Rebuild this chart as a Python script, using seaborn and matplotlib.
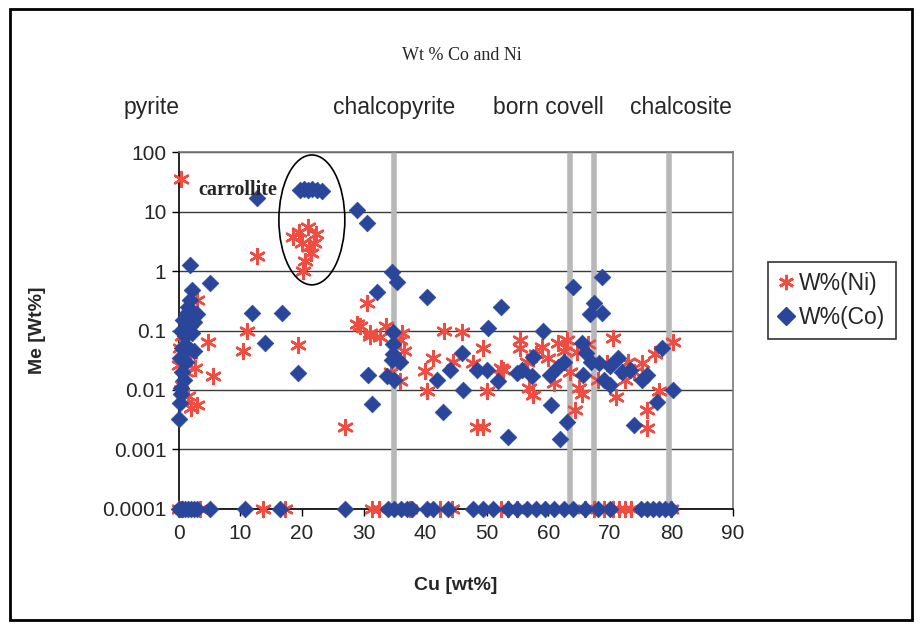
import numpy as np
import pandas as pd
import matplotlib
matplotlib.use('Agg')
import matplotlib.pyplot as plt
import seaborn as sns
from matplotlib.patches import Ellipse, Rectangle
from matplotlib.lines import Line2D
import matplotlib.transforms as mtransforms

# --- data (Cu wt%, Me wt%) ---
ni_cu = [0.3, 0.5, 1.0, 1.5, 0.2, 0.8, 0.0, 1.2, 0.5, 1.8, 2.9, 2.2, 4.7, 2.6, 5.5, 2.9, 2.0, 0.3, 1.5,
         10.4, 11.0, 12.7, 19.3,
         18.5, 19.5, 20.0, 21.0, 21.5, 20.5, 22.0, 20.2, 21.2, 22.3,
         30.5, 29.0, 31.0, 33.7, 36.2, 29.4, 31.0, 32.6, 35.9, 35.4, 35.9, 27.0, 34.5, 36.5,
         43.0, 46.0, 41.2, 40.0, 40.3, 49.4, 47.7, 50.0, 52.4, 48.4, 49.4, 44.5,
         55.4, 55.4, 59.0, 61.5, 63.1, 64.6, 70.5, 69.5, 75.3, 77.3, 80.2, 57.5, 56.8, 65.4, 64.3,
         76.0, 76.0, 61.0, 71.0, 78.0, 52.6, 65.0, 58.0, 60.0, 62.5, 66.5, 68.0, 72.5, 74.0, 56.5,
         63.5, 73.0]
ni_val = [35, 0.08, 0.07, 0.09, 0.05, 0.03, 0.026, 0.02, 0.012, 0.04, 0.32, 0.15, 0.064, 0.023, 0.017,
          0.0056, 0.005, 0.01, 0.008,
          0.045, 0.1, 1.8, 0.057,
          3.8, 4.5, 3.0, 5.5, 2.0, 1.5, 3.0, 1.0, 2.5, 4.2,
          0.29, 0.13, 0.09, 0.12, 0.09, 0.12, 0.08, 0.077, 0.07, 0.032, 0.014, 0.0024, 0.02, 0.045,
          0.1, 0.095, 0.035, 0.021, 0.0095, 0.05, 0.028, 0.0098, 0.023, 0.0024, 0.0024, 0.03,
          0.07, 0.05, 0.053, 0.061, 0.068, 0.044, 0.075, 0.028, 0.028, 0.041, 0.064, 0.0083, 0.011,
          0.0086, 0.0046, 0.0046, 0.0023, 0.013, 0.0075, 0.0095, 0.022, 0.011, 0.04, 0.035, 0.045,
          0.06, 0.015, 0.015, 0.02, 0.03, 0.02, 0.03]
ni_zero_cu = [0, 0.5, 3.4, 13.6, 17.2, 31.3, 32.5, 37.5, 42.4, 44.3, 52.4, 53.5, 54.9,
              66, 67.5, 69, 70.5, 71.5, 72.5, 73.5, 80]

co_cu = [1.8, 5.0, 2.1, 1.8, 1.3, 2.9, 1.8, 0.7, 1.5, 2.5, 0.3, 1.0, 0.5, 1.5, 2.5, 0.2, 1.2, 0.5,
         0.3, 0.4, 0.1, 0.8, 0.2, 2.2,
         11.8, 16.7, 14.0, 19.3, 12.7,
         19.6, 20.3, 21.0, 21.7, 22.4, 23.2,
         29.0, 30.5, 34.6, 35.4, 32.1, 40.3, 34.7, 31.3, 30.7, 33.8, 34.6, 34.7, 35.9, 35.0, 34.8,
         52.4, 50.2, 46.0, 44.0, 41.9, 46.1, 48.4, 50.0, 51.8, 42.9, 53.4, 55.0,
         64.0, 68.8, 67.5, 68.8, 66.7, 59.1, 57.5, 55.8, 57.3, 60.2, 61.5, 65.4, 66.2, 65.6, 68.3,
         70.0, 71.3, 70.0, 73.2, 75.3, 76.1, 78.4, 80.2, 77.6, 74.0, 60.5, 63.1, 61.9, 67.0, 72.0,
         69.0, 62.5]
co_val = [1.25, 0.62, 0.48, 0.33, 0.2, 0.19, 0.12, 0.15, 0.25, 0.14, 0.1, 0.08, 0.05, 0.05, 0.045,
          0.035, 0.03, 0.02, 0.011, 0.0086, 0.0032, 0.015, 0.006, 0.09,
          0.2, 0.2, 0.062, 0.019, 16.9,
          23, 24, 23, 24, 23, 22.5,
          10.6, 6.4, 0.97, 0.66, 0.44, 0.37, 0.095, 0.0059, 0.018, 0.017, 0.032, 0.04, 0.03, 0.015, 0.06,
          0.25, 0.11, 0.042, 0.022, 0.015, 0.01, 0.022, 0.022, 0.014, 0.0043, 0.0016, 0.019,
          0.54, 0.79, 0.29, 0.2, 0.19, 0.1, 0.036, 0.022, 0.017, 0.018, 0.024, 0.061, 0.042, 0.018,
          0.028, 0.025, 0.035, 0.012, 0.022, 0.015, 0.018, 0.051, 0.01, 0.0062, 0.0026, 0.0056,
          0.0029, 0.0015, 0.03, 0.02, 0.015, 0.03]
co_zero_cu = [0, 0.5, 1, 1.5, 2, 2.5, 3, 5, 10.7, 16.4, 27, 34, 35, 36, 37, 37.8, 40.3, 41.2, 43.7,
              47.7, 49.4, 51, 53.5, 55, 56.5, 58, 59.5, 61, 62.5, 64, 66, 68, 70, 75, 76, 77, 78, 79, 80]
detect_limit = 0.0001

mineral_names = ['pyrite', 'chalcopyrite', 'born covell', 'chalcosite']
mineral_label_cu = [-4.5, 35, 60, 81.5]
mineral_bounds = [35, 63.5, 67.5, 79.6]

red = '#EF4D42'
blue = '#2A469B'

ni = pd.DataFrame({'Cu': ni_cu + ni_zero_cu,
                   'Me': ni_val + [detect_limit] * len(ni_zero_cu)})
co = pd.DataFrame({'Cu': co_cu + co_zero_cu,
                   'Me': co_val + [detect_limit] * len(co_zero_cu)})

sns.set_style('white')
plt.rcParams['font.family'] = ['Liberation Sans', 'DejaVu Sans']

fig = plt.figure(figsize=(9.22, 6.26), dpi=100)
ax = fig.add_axes([0.194, 0.187, 0.601, 0.570])

for b in mineral_bounds:
    ax.axvline(b, color='#b8b8b8', lw=4, zorder=1)

star = (6, 2, 0)
sns.scatterplot(data=ni, x='Cu', y='Me', marker=star, s=115, color=red, linewidth=1.8,
                ax=ax, zorder=3, clip_on=False)
sns.scatterplot(data=co, x='Cu', y='Me', marker='D', s=72, color=blue, edgecolor=blue,
                linewidth=0.5, ax=ax, zorder=4, clip_on=False)

ax.set_yscale('log')
ax.set_ylim(1e-4, 100)
ax.set_xlim(0, 90)
ax.set_xticks(range(0, 91, 10))
ax.set_yticks([1e-4, 1e-3, 1e-2, 1e-1, 1, 10, 100],
              ['0.0001', '0.001', '0.01', '0.1', '1', '10', '100'])
ax.minorticks_off()
ax.tick_params(axis='both', labelsize=15, direction='out', length=5, width=1, color='black',
               bottom=True, left=True, pad=4)
ax.tick_params(axis='x', pad=6)
ax.yaxis.grid(True, color='#3a3a3a', lw=1)
ax.xaxis.grid(False)
for side in ['left', 'bottom']:
    ax.spines[side].set_color('black')
    ax.spines[side].set_linewidth(1.2)
for side in ['top', 'right']:
    ax.spines[side].set_color('#777777')
    ax.spines[side].set_linewidth(1.2)

ax.set_xlabel('Cu [wt%]', fontsize=14, fontweight='bold', labelpad=24)
ax.set_ylabel('Me [Wt%]', fontsize=14, fontweight='bold', labelpad=40)

# carrollite ellipse and label
ax.add_patch(Ellipse((0.240, 0.810), 0.119, 0.364, transform=ax.transAxes,
                     fill=False, ec='black', lw=1.2, zorder=5))
ax.text(3.2, 23, 'carrollite', fontsize=14.5, fontweight='bold', va='center', ha='left',
        family=['Liberation Serif', 'DejaVu Serif'], zorder=6)

# mineral zone labels above the plot
trans = mtransforms.blended_transform_factory(ax.transData, fig.transFigure)
for name, cu in zip(mineral_names, mineral_label_cu):
    ax.text(cu, 0.829, name, transform=trans, ha='center', va='center', fontsize=16.5,
            clip_on=False)

fig.text(0.501, 0.912, 'Wt % Co and Ni', ha='center', va='center', fontsize=13,
         family=['Liberation Serif', 'DejaVu Serif'])

handles = [Line2D([], [], ls='', marker=star, color=red, ms=11, mew=2),
           Line2D([], [], ls='', marker='D', color=blue, ms=9)]
leg = fig.legend(handles, ['W%(Ni)', 'W%(Co)'], loc='center left', bbox_to_anchor=(0.833, 0.52),
                 fontsize=16.5, frameon=True, fancybox=False, edgecolor='black',
                 handlelength=0.7, handletextpad=0.2, borderpad=0.45, labelspacing=0.45,
                 borderaxespad=0)
leg.get_frame().set_linewidth(1.2)

fig.patches.append(Rectangle((0.011, 0.01), 0.978, 0.975, transform=fig.transFigure,
                             fill=False, ec='black', lw=2))

fig.savefig('out.png', dpi=100)
